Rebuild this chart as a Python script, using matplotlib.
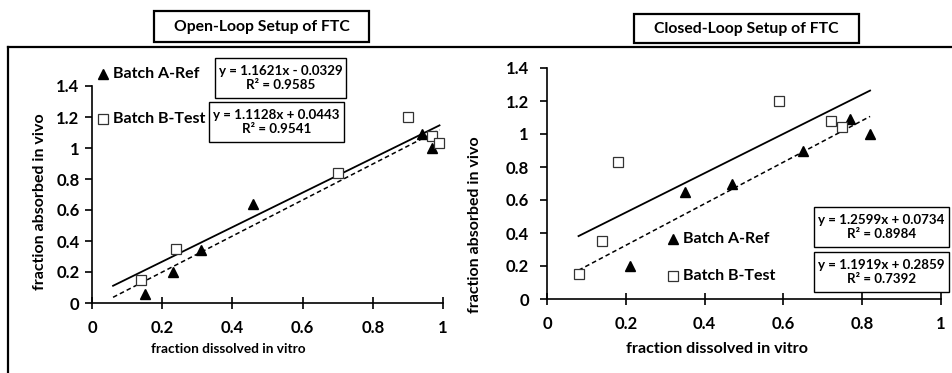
import numpy as np
import matplotlib
matplotlib.use("Agg")
import matplotlib.pyplot as plt
from matplotlib.lines import Line2D
from matplotlib.patches import Rectangle
from matplotlib.ticker import FuncFormatter

plt.rcParams["font.family"] = ["Lato", "DejaVu Sans"]
plt.rcParams["font.weight"] = "bold"

# ---- data ----
open_a_x = [0.15, 0.23, 0.31, 0.46, 0.94, 0.97]
open_a_y = [0.06, 0.20, 0.34, 0.64, 1.09, 1.00]
open_b_x = [0.14, 0.24, 0.70, 0.90, 0.97, 0.99]
open_b_y = [0.15, 0.35, 0.84, 1.20, 1.08, 1.03]

closed_a_x = [0.21, 0.35, 0.47, 0.65, 0.77, 0.82]
closed_a_y = [0.20, 0.65, 0.70, 0.90, 1.09, 1.00]
closed_b_x = [0.08, 0.14, 0.18, 0.59, 0.72, 0.75]
closed_b_y = [0.15, 0.35, 0.83, 1.20, 1.08, 1.04]

# trendlines: slope, intercept, R^2 (as printed on the chart)
open_a_fit = (1.1621, -0.0329, 0.9585)
open_b_fit = (1.1128, 0.0443, 0.9541)
closed_a_fit = (1.2599, 0.0734, 0.8984)
closed_b_fit = (1.1919, 0.2859, 0.7392)
open_fit_range = [0.06, 0.99]
closed_fit_range = [0.08, 0.82]

labels = ["Batch A-Ref", "Batch B-Test"]
titles = ["Open-Loop Setup of FTC", "Closed-Loop Setup of FTC"]
xlabel = "fraction dissolved in vitro"
ylabel = "fraction absorbed in vivo"

W, H = 953, 373
fig = plt.figure(figsize=(W / 100, H / 100), dpi=100)


def fx(px):
    return px / W


def fy(py):
    return 1 - py / H


def eq_text(fit):
    m, b, r2 = fit
    sign = "+" if b >= 0 else "-"
    return f"y = {m:.4f}x {sign} {abs(b):.4f}\nR² = {r2:.4f}"


def box(x0, y0, x1, y1, lw=1.2):
    fig.add_artist(Rectangle((fx(x0), fy(y1)), fx(x1) - fx(x0), fy(y0) - fy(y1),
                             transform=fig.transFigure, fill=False, ec="black", lw=lw))


def setup_axes(rect):
    ax = fig.add_axes(rect)
    ax.set_xlim(0, 1)
    ax.set_ylim(0, 1.4)
    ax.set_xticks(np.arange(0, 1.01, 0.2))
    ax.set_yticks(np.arange(0, 1.41, 0.2))
    fmt = FuncFormatter(lambda v, p: f"{v:g}")
    ax.xaxis.set_major_formatter(fmt)
    ax.yaxis.set_major_formatter(fmt)
    for s in ("top", "right"):
        ax.spines[s].set_visible(False)
    for s in ("left", "bottom"):
        ax.spines[s].set_linewidth(1.2)
    ax.tick_params(axis="x", direction="inout", length=8, width=1.2, pad=8, labelsize=12)
    ax.tick_params(axis="y", direction="out", length=5, width=1.2, pad=4, labelsize=12)
    for t in ax.get_xticklabels() + ax.get_yticklabels():
        t.set_fontweight("bold")
    return ax


def draw_panel(ax, ax_, ay_, bx_, by_, fit_a, fit_b, xr):
    xr = np.array(xr)
    ax.plot(xr, fit_b[0] * xr + fit_b[1], color="black", lw=1.3)
    ax.plot(xr, fit_a[0] * xr + fit_a[1], color="black", lw=1.1, ls=(0, (3, 2)))
    ax.plot(ax_, ay_, "^", color="black", ms=7, clip_on=False)
    ax.plot(bx_, by_, "s", mfc="white", mec="#333333", mew=0.9, ms=7, clip_on=False)


def legend_items(x, ys, size=11.5):
    for y, lab, mk in zip(ys, labels, ("^", "s")):
        if mk == "^":
            fig.add_artist(Line2D([fx(x)], [fy(y)], marker="^", color="black", ms=6.5,
                                  transform=fig.transFigure))
        else:
            fig.add_artist(Line2D([fx(x)], [fy(y)], marker="s", mfc="white", mec="#333333",
                                  mew=0.9, ms=6.5, transform=fig.transFigure))
        fig.text(fx(x + 10), fy(y), lab, ha="left", va="center", fontsize=size, fontweight="bold")


# ---- left panel: open loop ----
axL = setup_axes([fx(92), fy(303), fx(443) - fx(92), fy(86) - fy(303)])
draw_panel(axL, open_a_x, open_a_y, open_b_x, open_b_y, open_a_fit, open_b_fit, open_fit_range)
fig.text(fx(40), fy(202), ylabel, rotation=90, ha="center", va="center",
         fontsize=11.5, fontweight="bold")
fig.text(fx(228), fy(349), xlabel, ha="center", va="center", fontsize=9.8, fontweight="bold")
legend_items(103, (74, 119))

# ---- right panel: closed loop ----
axR = setup_axes([fx(547), fy(299), fx(941) - fx(547), fy(68) - fy(299)])
axR.tick_params(axis="y", pad=8)
draw_panel(axR, closed_a_x, closed_a_y, closed_b_x, closed_b_y, closed_a_fit, closed_b_fit,
           closed_fit_range)
fig.text(fx(475), fy(225), ylabel, rotation=90, ha="center", va="center",
         fontsize=11.5, fontweight="bold")
fig.text(fx(717), fy(349), xlabel, ha="center", va="center", fontsize=11.6, fontweight="bold")
legend_items(673, (239, 276))

# ---- equation boxes ----
eq_boxes = [
    ((215, 58, 346, 98), open_a_fit),
    ((209, 102, 344, 142), open_b_fit),
    ((814, 207, 949, 247), closed_a_fit),
    ((814, 252, 949, 292), closed_b_fit),
]
for (x0, y0, x1, y1), fit in eq_boxes:
    box(x0, y0, x1, y1, lw=1.0)
    fig.text(fx((x0 + x1) / 2), fy((y0 + y1) / 2), eq_text(fit), ha="center", va="center",
             fontsize=9.6, fontweight="bold", linespacing=1.2)

# ---- title boxes ----
box(154, 11, 369, 42, lw=1.6)
fig.text(fx(261.5), fy(26.5), titles[0], ha="center", va="center", fontsize=11.3, fontweight="bold")
box(634, 14, 859, 43, lw=1.6)
fig.text(fx(746.5), fy(28.5), titles[1], ha="center", va="center", fontsize=11.3, fontweight="bold")

# ---- outer frame (top and left edges visible) ----
fig.add_artist(Line2D([fx(8), 1], [fy(47), fy(47)], color="black", lw=1.6,
                      transform=fig.transFigure))
fig.add_artist(Line2D([fx(8), fx(8)], [fy(47), 0], color="black", lw=1.6,
                      transform=fig.transFigure))

fig.savefig("out.png", dpi=100)
